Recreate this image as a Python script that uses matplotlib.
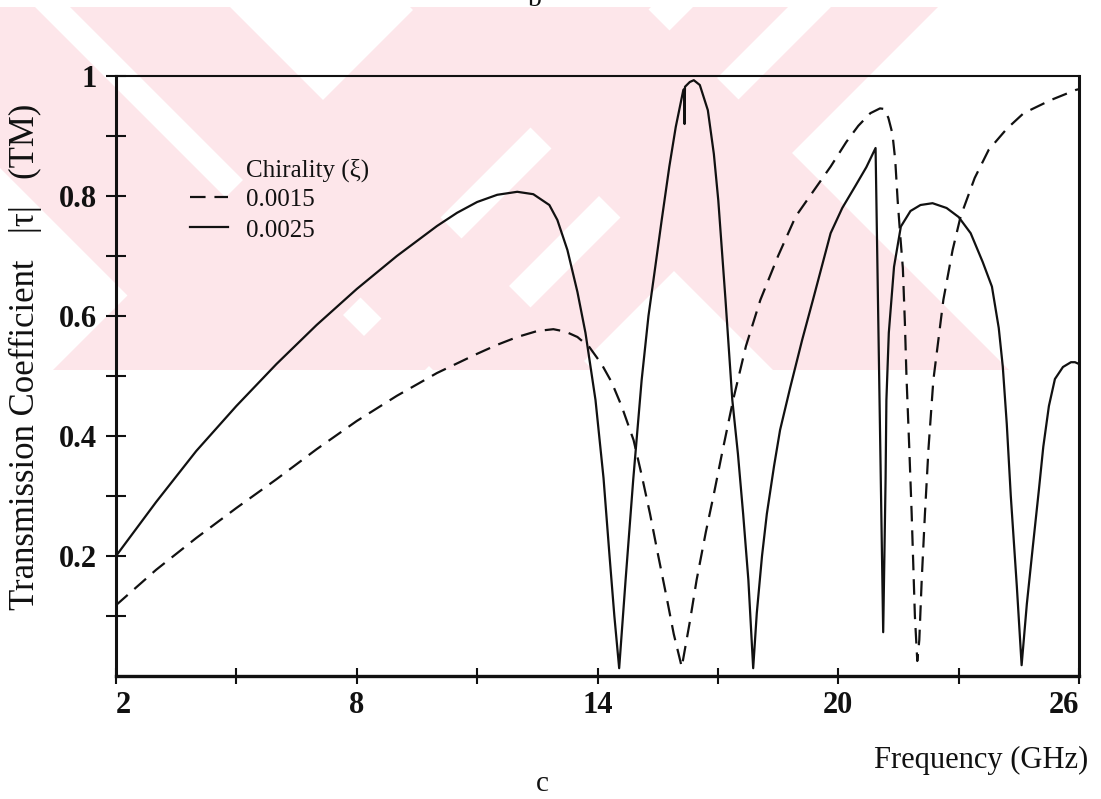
import matplotlib.pyplot as plt
from matplotlib.patches import Polygon, Rectangle

# transmission coefficient |tau| (TM) vs frequency, two chirality values
series_labels = ['0.0015', '0.0025']

freq_a = [2.0, 3.0, 4.0, 5.0, 6.0, 7.0, 8.0, 9.0, 10.0, 11.0, 11.5, 12.0, 12.5,
          12.9, 13.2, 13.5, 13.8, 14.1, 14.35, 14.6, 14.9, 15.1, 15.31, 15.5,
          15.72, 15.9, 16.1, 16.3, 16.47, 16.7, 16.89, 17.1, 17.38, 17.7, 18.06,
          18.5, 18.94, 19.4, 19.81, 20.2, 20.5, 20.8, 21.04, 21.15, 21.25, 21.35,
          21.42, 21.48, 21.55, 21.61, 21.66, 21.7, 21.77, 21.83, 21.91, 21.97,
          22.02, 22.08, 22.16, 22.25, 22.37, 22.62, 22.85, 23.05, 23.4, 23.75,
          24.2, 24.62, 25.3, 25.93, 26.0]
tau_a = [0.118, 0.177, 0.23, 0.28, 0.328, 0.378, 0.425, 0.467, 0.505, 0.537,
         0.552, 0.565, 0.575, 0.578, 0.574, 0.565, 0.548, 0.52, 0.49, 0.45,
         0.393, 0.335, 0.27, 0.205, 0.132, 0.07, 0.015, 0.09, 0.16, 0.24, 0.3,
         0.37, 0.46, 0.55, 0.627, 0.7, 0.766, 0.81, 0.849, 0.89, 0.917, 0.938,
         0.946, 0.945, 0.93, 0.904, 0.86, 0.793, 0.73, 0.68, 0.59, 0.5, 0.38,
         0.27, 0.1, 0.025, 0.06, 0.16, 0.27, 0.38, 0.493, 0.627, 0.71, 0.766,
         0.83, 0.877, 0.912, 0.938, 0.96, 0.977, 0.978]

freq_b = [2.0, 3.0, 4.0, 5.0, 6.0, 7.0, 8.0, 9.0, 10.0, 10.5, 11.0, 11.5, 12.0,
          12.4, 12.8, 13.0, 13.25, 13.5, 13.7, 13.95, 14.15, 14.3, 14.42, 14.54,
          14.7, 14.89, 15.1, 15.27, 15.44, 15.6, 15.79, 15.95, 16.14, 16.16,
          16.17, 16.18, 16.3, 16.4, 16.55, 16.75, 16.9, 17.01, 17.19, 17.36,
          17.5, 17.63, 17.76, 17.88, 17.97, 18.1, 18.22, 18.4, 18.55, 18.8,
          19.1, 19.37, 19.6, 19.81, 20.1, 20.42, 20.7, 20.93, 21.12, 21.15,
          21.18, 21.2, 21.26, 21.39, 21.56, 21.8, 22.05, 22.35, 22.7, 23.0,
          23.3, 23.6, 23.83, 24.0, 24.1, 24.2, 24.3, 24.45, 24.57, 24.7, 24.85,
          25.0, 25.11, 25.25, 25.4, 25.6, 25.8, 25.9, 26.0]
tau_b = [0.2, 0.29, 0.375, 0.45, 0.52, 0.585, 0.645, 0.7, 0.75, 0.772, 0.79,
         0.802, 0.807, 0.803, 0.785, 0.76, 0.71, 0.64, 0.572, 0.46, 0.33, 0.2,
         0.1, 0.013, 0.16, 0.327, 0.493, 0.6, 0.682, 0.76, 0.849, 0.915, 0.977,
         0.978, 0.92, 0.982, 0.99, 0.993, 0.985, 0.943, 0.87, 0.793, 0.627,
         0.46, 0.37, 0.27, 0.16, 0.013, 0.105, 0.2, 0.27, 0.35, 0.41, 0.48,
         0.56, 0.627, 0.685, 0.738, 0.78, 0.816, 0.848, 0.88, 0.073, 0.2, 0.33,
         0.46, 0.572, 0.682, 0.749, 0.775, 0.785, 0.788, 0.78, 0.765, 0.738,
         0.69, 0.649, 0.58, 0.516, 0.42, 0.3, 0.15, 0.018, 0.12, 0.216, 0.31,
         0.382, 0.45, 0.495, 0.515, 0.523, 0.523, 0.52]

W, H = 1101, 799
serif = 'Liberation Serif'
ink = '#111111'

fig = plt.figure(figsize=(W / 100, H / 100), dpi=100)

# faint pink stamp behind everything, drawn in pixel coordinates:
# bands running "/" (constant x+y) and "\" (constant x-y)
bg = fig.add_axes([0, 0, 1, 1], zorder=0)
bg.set_xlim(0, W)
bg.set_ylim(H, 0)
bg.axis('off')
pink = '#fde6ea'
y0, y1 = 7, 370
clip = Rectangle((0, y0), W, y1 - y0, transform=bg.transData, visible=False)
bg.add_patch(clip)
for a, b in [(423, 658), (700, 795), (838, 945)]:
    p = Polygon([(a - y0, y0), (b - y0, y0), (b - y1, y1), (a - y1, y1)],
                closed=True, fc=pink, ec='none')
    bg.add_patch(p)
    p.set_clip_path(clip)
for c, d in [(-168, 28), (63, 223), (403, 639)]:
    p = Polygon([(c + y0, y0), (d + y0, y0), (d + y1, y1), (c + y1, y1)],
                closed=True, fc=pink, ec='none')
    bg.add_patch(p)
    p.set_clip_path(clip)

ax = fig.add_axes([116 / W, 1 - 676 / H, (1079 - 116) / W, 600 / H], zorder=1)
ax.patch.set_alpha(0)

ax.plot(freq_a, tau_a, color=ink, lw=1.6, dashes=(7, 4))
ax.plot(freq_b, tau_b, color=ink, lw=1.6)

ax.set_xlim(2, 26)
ax.set_ylim(0, 1)
ax.set_xticks([2, 8, 14, 20, 26])
ax.set_xticklabels(['2', '8', '14', '20', '26'])
ax.set_xticks([5, 11, 17, 23], minor=True)
ax.set_yticks([0.2, 0.4, 0.6, 0.8, 1.0])
ax.set_yticklabels(['0.2', '0.4', '0.6', '0.8', '1'])
ax.set_yticks([0.1, 0.3, 0.5, 0.7, 0.9], minor=True)

ax.tick_params(axis='x', which='both', direction='inout', length=12, width=1.5,
               pad=5, colors=ink)
ax.tick_params(axis='y', which='both', direction='inout', length=15, width=1.5,
               pad=6, colors=ink)
for lab in ax.get_xticklabels() + ax.get_yticklabels():
    lab.set_fontfamily(serif)
    lab.set_fontweight('bold')
    lab.set_fontsize(22)

# end labels sit inside the axis ends
xlabs = ax.get_xticklabels()
xlabs[0].set_horizontalalignment('left')
xlabs[-1].set_horizontalalignment('right')

for side, lw in [('left', 2.2), ('bottom', 2.4), ('right', 2.2), ('top', 1.5)]:
    ax.spines[side].set_linewidth(lw)
    ax.spines[side].set_color(ink)

# legend block
ax.text(0.1345, 0.843, 'Chirality (\u03be)', transform=ax.transAxes,
        fontfamily=serif, fontsize=18, va='center', ha='left', color=ink)
for i, (lab, st) in enumerate(zip(series_labels, [(7, 4), None])):
    yy = 0.793 - i * 0.0515
    kw = dict(dashes=st) if st else {}
    ax.plot([0.0769, 0.1163], [yy + 0.006, yy + 0.006], transform=ax.transAxes,
            color=ink, lw=1.6, clip_on=False, **kw)
    ax.text(0.1345, yy, lab, transform=ax.transAxes, fontfamily=serif,
            fontsize=18, va='center', ha='left', color=ink)

fig.text(25 / W, 1 - 357 / H, 'Transmission Coefficient   |\u03c4|   (TM)',
         rotation=90, ha='center', va='center', fontfamily=serif, fontsize=25,
         color=ink)
fig.text(1088 / W, 1 - 760 / H, 'Frequency (GHz)', ha='right', va='center',
         fontfamily=serif, fontsize=22, color=ink)
fig.text(542 / W, 1 - 784 / H, 'c', ha='center', va='center',
         fontfamily=serif, fontsize=21, color=ink)
fig.text(535 / W, 1 - 12 / H, 'b', ha='center', va='bottom',
         fontfamily=serif, fontsize=20, color=ink)

fig.savefig('out.png', dpi=100)
